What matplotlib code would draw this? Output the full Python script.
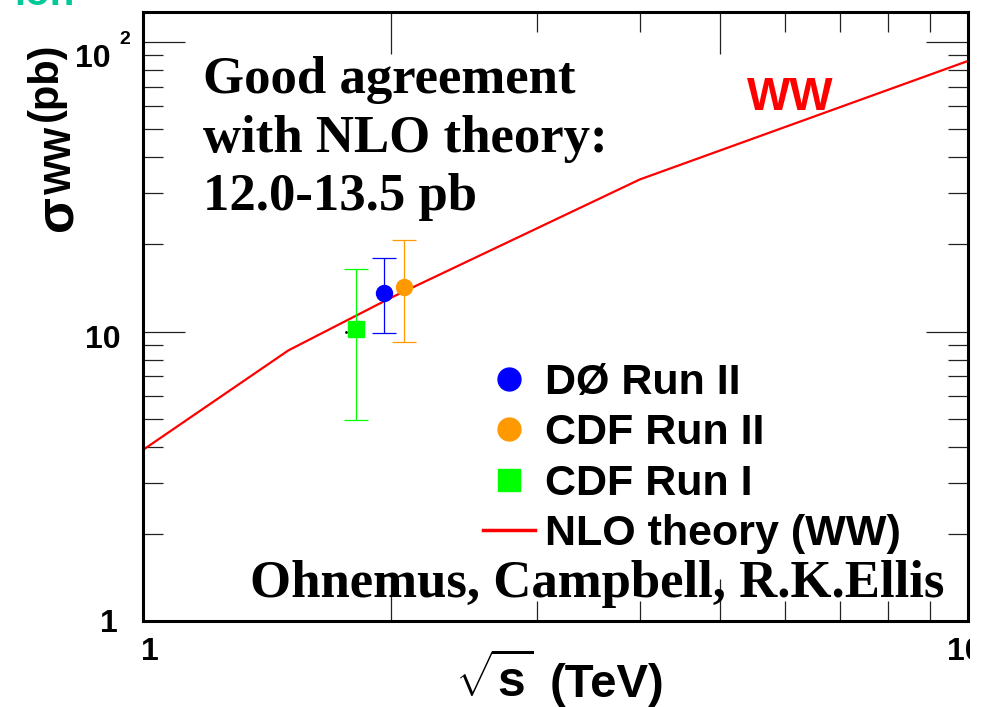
import matplotlib.pyplot as plt
from matplotlib.lines import Line2D
from matplotlib.ticker import FixedLocator, NullFormatter
from matplotlib.transforms import Bbox, TransformedBbox

plt.rcParams['mathtext.fontset'] = 'custom'
plt.rcParams['mathtext.rm'] = 'Liberation Sans:bold'
plt.rcParams['mathtext.bf'] = 'Liberation Sans:bold'

# NLO theory for WW production vs collider energy
sqrt_s = [1.0, 1.5, 2.0, 4.0, 10.0]
sigma_nlo = [3.9, 8.6, 13.1, 33.5, 86.0]

# Tevatron measurements (pb)
experiments = ['DØ Run II', 'CDF Run II', 'CDF Run I']
exp_x = [1.96, 2.07, 1.81]
exp_y = [13.6, 14.2, 10.2]
err_lo = [3.75, 5.0, 5.25]
err_hi = [4.3, 6.5, 6.2]
exp_colors = ['#0000ff', '#ff9900', '#00ff00']
exp_markers = ['o', 'o', 's']

W, H = 982, 707
SANS = 'Liberation Sans'
SERIF = 'Liberation Serif'

fig = plt.figure(figsize=(W / 100, H / 100), dpi=100)
ax = fig.add_axes([143 / W, 86 / H, 825 / W, 609 / H])
ax.set_xscale('log')
ax.set_yscale('log')
ax.set_xlim(1, 10)
ax.set_ylim(1, 10 ** (609 / 289.5))

ax.xaxis.set_major_locator(FixedLocator([1, 2, 5, 10]))
ax.xaxis.set_minor_locator(FixedLocator([3, 4, 6, 7, 8, 9]))
ax.yaxis.set_major_locator(FixedLocator([1, 10, 100]))
ax.yaxis.set_minor_locator(FixedLocator([2, 3, 4, 5, 6, 7, 8, 9,
                                         20, 30, 40, 50, 60, 70, 80, 90]))
for axis in (ax.xaxis, ax.yaxis):
    axis.set_major_formatter(NullFormatter())
    axis.set_minor_formatter(NullFormatter())
ax.tick_params(which='both', direction='in', top=True, right=True,
               color='#222222', width=0.9)
ax.tick_params(which='major', length=30)
ax.tick_params(which='minor', length=14.4)
for s in ax.spines.values():
    s.set_linewidth(2.2)

ax.plot(sqrt_s, sigma_nlo, color='#ff0000', lw=1.6, zorder=2)
ax.plot([1.76], [10.0], 'k.', ms=2)

for x, y, lo, hi, c, m in zip(exp_x, exp_y, err_lo, err_hi, exp_colors, exp_markers):
    ax.errorbar([x], [y], yerr=[[lo], [hi]], fmt=m, color=c, ms=11.5,
                capsize=8.5, elinewidth=0.9, capthick=0.9, zorder=3)

# legend
handles = [Line2D([], [], ls='none', marker=m, ms=16.5 if m == 'o' else 16, color=c)
           for c, m in zip(exp_colors, exp_markers)]
handles.append(Line2D([], [], color='#ff0000', lw=2.5))
labels = experiments + ['NLO theory (WW)']
ax.legend(handles, labels, loc='upper left',
          bbox_to_anchor=((483 - 143) / 825, (621 - 363) / 609),
          frameon=False, borderpad=0, borderaxespad=0, handlelength=1.2,
          handletextpad=0.23, labelspacing=0.24,
          prop=dict(family=SANS, weight='bold', size=31))

# tick labels
tick_font = dict(family=SANS, weight='bold', size=23)
ax.annotate('1', xy=(0, 1), xycoords=('axes fraction', 'data'), xytext=(-25, -11),
            textcoords='offset pixels', ha='right', va='baseline', **tick_font)
ax.annotate('10', xy=(0, 10), xycoords=('axes fraction', 'data'), xytext=(-22, -17),
            textcoords='offset pixels', ha='right', va='baseline', **tick_font)
ax.annotate('10', xy=(0, 100), xycoords=('axes fraction', 'data'), xytext=(-32, -25),
            textcoords='offset pixels', ha='right', va='baseline', **tick_font)
ax.annotate('2', xy=(0, 100), xycoords=('axes fraction', 'data'), xytext=(-24, -2),
            textcoords='offset pixels', ha='left', va='baseline',
            family=SANS, weight='bold', size=14)
ax.annotate('1', xy=(1, 0), xycoords=('data', 'axes fraction'), xytext=(7, -39),
            textcoords='offset pixels', ha='center', va='baseline', **tick_font)
ten = ax.annotate('10', xy=(10, 0), xycoords=('data', 'axes fraction'), xytext=(-21, -39),
                  textcoords='offset pixels', ha='left', va='baseline', **tick_font)
ten.set_clip_box(TransformedBbox(Bbox([[0, 0], [970 / W, 1]]), fig.transFigure))
ten.set_clip_on(True)

# axis titles
fig.text(71 / W, 1 - 213 / H, 'σ', rotation=90, rotation_mode='anchor',
         ha='center', va='baseline', family=SANS, weight='bold', size=38)
fig.text(71 / W, 1 - 160 / H, 'WW', rotation=90, rotation_mode='anchor',
         ha='center', va='baseline', family=SANS, weight='bold', size=26)
fig.text(57 / W, 1 - 82 / H, '(pb)', rotation=90, rotation_mode='anchor',
         ha='center', va='baseline', family=SANS, weight='bold', size=30)
fig.text(455 / W, 1 - 697 / H, r'$\sqrt{\mathbf{s}}$', ha='left', va='baseline',
         size=36)
fig.text(550 / W, 1 - 697 / H, '(TeV)', ha='left', va='baseline',
         family=SANS, weight='bold', size=34)

# annotations
serif_font = dict(family=SERIF, weight='bold', size=38)
for line, base in zip(['Good agreement', 'with NLO theory:', '12.0-13.5 pb'], [93, 152, 210]):
    fig.text(203 / W, 1 - base / H, line, ha='left', va='baseline', **serif_font)
fig.text(250 / W, 1 - 597 / H, 'Ohnemus, Campbell, R.K.Ellis', ha='left', va='baseline',
         **serif_font)
fig.text(790 / W, 1 - 110 / H, 'WW', ha='center', va='baseline', color='#ff0000',
         family=SANS, weight='bold', size=33)

# slide heading cut off at the top edge
fig.text(75 / W, 1 - 5 / H, 'ion', ha='right', va='baseline', color='#00c896',
         family=SANS, weight='bold', size=29)

fig.savefig('out.png', dpi=100)
